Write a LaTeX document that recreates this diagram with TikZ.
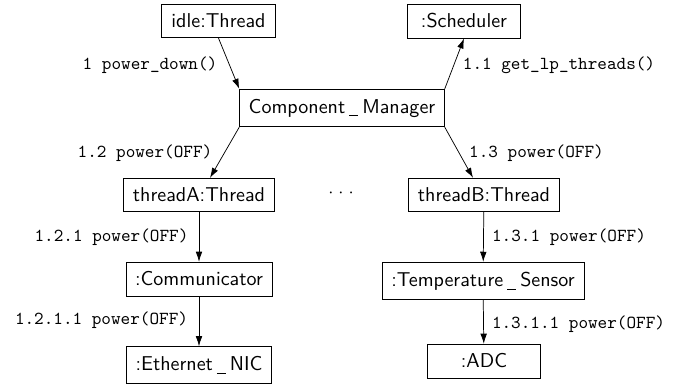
\documentclass[tikz,border=0pt]{standalone}
\usetikzlibrary{arrows.meta,calc}
\newcommand{\usc}{\kern.2em\rule[-1.7pt]{.45em}{.45pt}\kern.2em}
\begin{document}
\begin{tikzpicture}[x=0.5464pt,y=-0.5464pt,
  obj/.style={draw,font=\fontsize{10.95}{13.6}\selectfont\sffamily,inner xsep=5pt,inner ysep=5.3pt,minimum width=62pt},
  msg/.style={font=\ttfamily,inner sep=0pt},
  arr/.style={-{Latex[length=5.5pt,width=3.6pt]}}]
\useasboundingbox (0,0) rectangle (683,384);
\node[obj] (idle) at (218.5,21) {idle:Thread};
\node[obj] (sched) at (464,21) {:Scheduler};
\node[obj] (cm) at (342,108) {Component\usc Manager};
\node[obj] (tA) at (199,195) {threadA:Thread};
\node[obj] (tB) at (484,195) {threadB:Thread};
\node (dots) at (341,193) {${\cdot}\;{\cdot}\;{\cdot}$};
\node[obj] (comm) at (199,279) {:Communicator};
\node[obj] (temp) at (483,281) {:Temperature\usc Sensor};
\node[obj] (eth) at (199,365) {:Ethernet\usc NIC};
\node[obj] (adc) at (484,361) {:ADC};

\draw[arr] (idle.south) -- (cm.north west);
\draw[arr] (cm.north east) -- (sched.south);
\draw[arr] (cm.south west) -- ($(tA.north)+(11,0)$);
\draw[arr] (cm.south east) -- ($(tB.north)+(-11,0)$);
\draw[arr] (tA) -- (comm);
\draw[arr] (comm) -- (eth);
\draw[arr] (tB) -- (temp);
\draw[arr] (temp) -- (adc);

\node[msg] (m1) at (150,65) {1 power\_down()};
\node[msg] (m11) at (559,65) {1.1 get\_lp\_threads()};
\node[msg] (m12) at (145,153) {1.2 power(OFF)};
\node[msg] (m13) at (536.5,153) {1.3 power(OFF)};
\node[msg] (m121) at (111.5,237) {1.2.1 power(OFF)};
\node[msg] (m131) at (569,237) {1.3.1 power(OFF)};
\node[msg] (m1211) at (101.5,320) {1.2.1.1 power(OFF)};
\node[msg] (m1311) at (578.5,324) {1.3.1.1 power(OFF)};
\end{tikzpicture}
\end{document}
